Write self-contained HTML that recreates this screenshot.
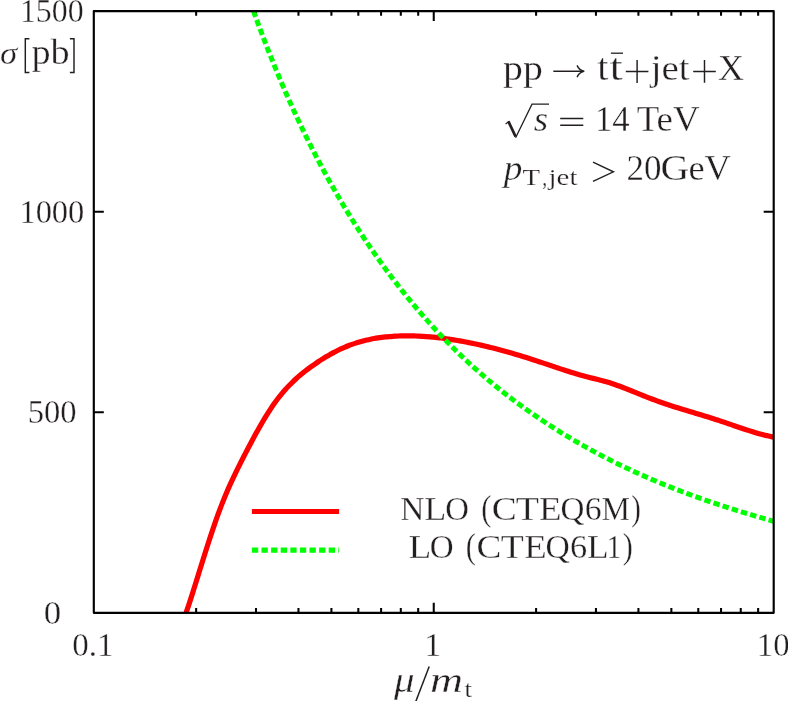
<!DOCTYPE html>
<html><head><meta charset="utf-8"><title>plot</title>
<style>
html,body{margin:0;padding:0;background:#fff}
body{width:788px;height:701px;position:relative;overflow:hidden}
svg{position:absolute;left:0;top:0;display:block;will-change:transform}
text{font-family:"Liberation Serif",serif;fill:#231f20;stroke:#fff;white-space:pre}
</style></head><body>
<svg width="788" height="701" viewBox="0 0 788 701">
<defs><clipPath id="c"><rect x="93.8" y="11.05" width="679.90" height="601.80"/></clipPath></defs>
<rect width="788" height="701" fill="#fff"/>
<path d="M196.14 612.85v-4.80M196.14 11.05v4.80M256.00 612.85v-4.80M256.00 11.05v4.80M298.47 612.85v-4.80M298.47 11.05v4.80M331.41 612.85v-4.80M331.41 11.05v4.80M358.33 612.85v-4.80M358.33 11.05v4.80M381.09 612.85v-4.80M381.09 11.05v4.80M400.81 612.85v-4.80M400.81 11.05v4.80M418.19 612.85v-4.80M418.19 11.05v4.80M433.75 612.85v-10.00M433.75 11.05v10.00M536.09 612.85v-4.80M536.09 11.05v4.80M595.95 612.85v-4.80M595.95 11.05v4.80M638.42 612.85v-4.80M638.42 11.05v4.80M671.36 612.85v-4.80M671.36 11.05v4.80M698.28 612.85v-4.80M698.28 11.05v4.80M721.04 612.85v-4.80M721.04 11.05v4.80M740.76 612.85v-4.80M740.76 11.05v4.80M758.14 612.85v-4.80M758.14 11.05v4.80M93.80 412.25h10.0M773.70 412.25h-10.0M93.80 211.65h10.0M773.70 211.65h-10.0" stroke="#000" stroke-width="2.05" fill="none"/>
<g clip-path="url(#c)" fill="none">
<path d="M185.00 616.02C185.62 614.19 187.47 608.82 188.71 605.08C189.95 601.34 191.18 597.48 192.42 593.60C193.66 589.72 194.90 585.74 196.13 581.78C197.37 577.82 198.61 573.80 199.84 569.83C201.08 565.86 202.32 561.87 203.55 557.94C204.79 554.01 206.03 550.09 207.26 546.24C208.50 542.39 209.74 538.57 210.97 534.85C212.21 531.12 213.45 527.44 214.69 523.88C215.92 520.31 217.16 516.81 218.40 513.44C219.63 510.07 220.87 506.81 222.11 503.66C223.34 500.50 224.58 497.47 225.82 494.51C227.05 491.56 228.29 488.72 229.53 485.93C230.77 483.15 232.00 480.46 233.24 477.82C234.48 475.18 235.71 472.62 236.95 470.08C238.19 467.55 239.42 465.09 240.66 462.63C241.90 460.18 243.13 457.78 244.37 455.38C245.61 452.98 246.84 450.60 248.08 448.24C249.32 445.88 250.56 443.53 251.79 441.22C253.03 438.91 254.27 436.61 255.50 434.36C256.74 432.11 257.98 429.88 259.21 427.70C260.45 425.52 261.69 423.38 262.92 421.28C264.16 419.19 265.40 417.13 266.64 415.14C267.87 413.15 269.11 411.20 270.35 409.32C271.58 407.44 272.82 405.61 274.06 403.85C275.29 402.09 276.53 400.41 277.77 398.78C279.00 397.15 280.24 395.59 281.48 394.09C282.71 392.58 283.95 391.14 285.19 389.75C286.43 388.36 287.66 387.02 288.90 385.73C290.14 384.44 291.37 383.21 292.61 382.01C293.85 380.81 295.08 379.66 296.32 378.54C297.56 377.42 298.79 376.35 300.03 375.30C301.27 374.25 302.51 373.25 303.74 372.26C304.98 371.27 306.22 370.32 307.45 369.38C308.69 368.45 309.93 367.54 311.16 366.64C312.40 365.75 313.64 364.87 314.87 364.02C316.11 363.16 317.35 362.33 318.58 361.51C319.82 360.69 321.06 359.89 322.30 359.12C323.53 358.34 324.77 357.58 326.01 356.84C327.24 356.10 328.48 355.39 329.72 354.69C330.95 353.99 332.19 353.31 333.43 352.66C334.66 352.00 335.90 351.36 337.14 350.75C338.38 350.13 339.61 349.54 340.85 348.97C342.09 348.39 343.32 347.84 344.56 347.31C345.80 346.78 347.03 346.27 348.27 345.78C349.51 345.30 350.74 344.83 351.98 344.39C353.22 343.94 354.45 343.52 355.69 343.12C356.93 342.71 358.17 342.33 359.40 341.97C360.64 341.60 361.88 341.26 363.11 340.94C364.35 340.61 365.59 340.31 366.82 340.02C368.06 339.73 369.30 339.46 370.53 339.21C371.77 338.96 373.01 338.72 374.25 338.50C375.48 338.28 376.72 338.08 377.96 337.89C379.19 337.70 380.43 337.53 381.67 337.37C382.90 337.21 384.14 337.06 385.38 336.93C386.61 336.80 387.85 336.68 389.09 336.58C390.32 336.47 391.56 336.38 392.80 336.30C394.04 336.22 395.27 336.15 396.51 336.09C397.75 336.04 398.98 335.99 400.22 335.95C401.46 335.91 402.69 335.89 403.93 335.87C405.17 335.85 406.40 335.85 407.64 335.85C408.88 335.85 410.12 335.86 411.35 335.88C412.59 335.90 413.83 335.93 415.06 335.97C416.30 336.01 417.54 336.06 418.77 336.12C420.01 336.17 421.25 336.24 422.48 336.31C423.72 336.39 424.96 336.47 426.19 336.56C427.43 336.65 428.67 336.75 429.91 336.86C431.14 336.97 432.38 337.08 433.62 337.21C434.85 337.33 436.09 337.46 437.33 337.60C438.56 337.74 439.80 337.88 441.04 338.04C442.27 338.19 443.51 338.35 444.75 338.52C445.99 338.69 447.22 338.86 448.46 339.04C449.70 339.22 450.93 339.41 452.17 339.61C453.41 339.80 454.64 340.00 455.88 340.21C457.12 340.42 458.35 340.63 459.59 340.85C460.83 341.07 462.06 341.29 463.30 341.52C464.54 341.76 465.78 341.99 467.01 342.24C468.25 342.48 469.49 342.73 470.72 342.98C471.96 343.23 473.20 343.49 474.43 343.75C475.67 344.02 476.91 344.29 478.14 344.56C479.38 344.83 480.62 345.11 481.86 345.40C483.09 345.68 484.33 345.97 485.57 346.26C486.80 346.56 488.04 346.86 489.28 347.16C490.51 347.46 491.75 347.77 492.99 348.08C494.22 348.40 495.46 348.71 496.70 349.03C497.94 349.36 499.17 349.68 500.41 350.01C501.65 350.34 502.88 350.68 504.12 351.02C505.36 351.36 506.59 351.70 507.83 352.05C509.07 352.40 510.30 352.75 511.54 353.11C512.78 353.46 514.01 353.82 515.25 354.19C516.49 354.55 517.73 354.92 518.96 355.29C520.20 355.66 521.44 356.04 522.67 356.42C523.91 356.80 525.15 357.18 526.38 357.57C527.62 357.96 528.86 358.35 530.09 358.75C531.33 359.14 532.57 359.54 533.81 359.94C535.04 360.34 536.28 360.75 537.52 361.16C538.75 361.56 539.99 361.98 541.23 362.39C542.46 362.80 543.70 363.22 544.94 363.63C546.17 364.05 547.41 364.47 548.65 364.88C549.88 365.30 551.12 365.72 552.36 366.13C553.60 366.55 554.83 366.96 556.07 367.38C557.31 367.79 558.54 368.20 559.78 368.61C561.02 369.02 562.25 369.43 563.49 369.83C564.73 370.23 565.96 370.63 567.20 371.03C568.44 371.42 569.68 371.81 570.91 372.20C572.15 372.58 573.39 372.96 574.62 373.33C575.86 373.71 577.10 374.07 578.33 374.43C579.57 374.79 580.81 375.15 582.04 375.49C583.28 375.83 584.52 376.17 585.75 376.49C586.99 376.82 588.23 377.14 589.47 377.45C590.70 377.77 591.94 378.08 593.18 378.39C594.41 378.70 595.65 379.01 596.89 379.32C598.12 379.63 599.36 379.95 600.60 380.27C601.83 380.60 603.07 380.92 604.31 381.27C605.55 381.61 606.78 381.96 608.02 382.33C609.26 382.70 610.49 383.08 611.73 383.48C612.97 383.88 614.20 384.30 615.44 384.73C616.68 385.16 617.91 385.60 619.15 386.06C620.39 386.51 621.62 386.98 622.86 387.45C624.10 387.93 625.34 388.41 626.57 388.90C627.81 389.39 629.05 389.89 630.28 390.38C631.52 390.88 632.76 391.39 633.99 391.89C635.23 392.40 636.47 392.91 637.70 393.41C638.94 393.92 640.18 394.43 641.42 394.93C642.65 395.43 643.89 395.93 645.13 396.42C646.36 396.92 647.60 397.41 648.84 397.89C650.07 398.37 651.31 398.84 652.55 399.30C653.78 399.77 655.02 400.22 656.26 400.67C657.49 401.12 658.73 401.56 659.97 401.99C661.21 402.42 662.44 402.85 663.68 403.27C664.92 403.69 666.15 404.10 667.39 404.51C668.63 404.92 669.86 405.33 671.10 405.73C672.34 406.13 673.57 406.52 674.81 406.91C676.05 407.30 677.29 407.69 678.52 408.08C679.76 408.46 681.00 408.84 682.23 409.22C683.47 409.60 684.71 409.98 685.94 410.35C687.18 410.73 688.42 411.10 689.65 411.47C690.89 411.85 692.13 412.22 693.36 412.59C694.60 412.96 695.84 413.33 697.08 413.70C698.31 414.08 699.55 414.45 700.79 414.82C702.02 415.20 703.26 415.57 704.50 415.95C705.73 416.33 706.97 416.71 708.21 417.09C709.44 417.48 710.68 417.86 711.92 418.25C713.16 418.64 714.39 419.03 715.63 419.43C716.87 419.83 718.10 420.23 719.34 420.63C720.58 421.04 721.81 421.45 723.05 421.87C724.29 422.28 725.52 422.70 726.76 423.13C728.00 423.55 729.23 423.97 730.47 424.40C731.71 424.82 732.95 425.25 734.18 425.67C735.42 426.10 736.66 426.52 737.89 426.95C739.13 427.37 740.37 427.79 741.60 428.20C742.84 428.62 744.08 429.03 745.31 429.44C746.55 429.84 747.79 430.24 749.03 430.64C750.26 431.03 751.50 431.42 752.74 431.80C753.97 432.17 755.21 432.54 756.45 432.90C757.68 433.26 758.92 433.61 760.16 433.95C761.39 434.28 762.63 434.61 763.87 434.92C765.10 435.23 766.34 435.53 767.58 435.82C768.82 436.10 770.05 436.37 771.29 436.62C772.53 436.88 774.38 437.21 775.00 437.33" stroke="#f00" stroke-width="5.2" stroke-linejoin="round"/>
<path d="M253.40 10.80C254.03 12.52 255.90 17.73 257.16 21.13C258.41 24.54 259.66 27.90 260.91 31.23C262.16 34.56 263.41 37.84 264.66 41.10C265.91 44.35 267.16 47.57 268.41 50.74C269.66 53.92 270.91 57.07 272.17 60.17C273.42 63.28 274.67 66.35 275.92 69.39C277.17 72.43 278.42 75.43 279.67 78.40C280.92 81.37 282.17 84.31 283.42 87.21C284.67 90.12 285.92 92.99 287.18 95.83C288.43 98.67 289.68 101.48 290.93 104.25C292.18 107.03 293.43 109.78 294.68 112.50C295.93 115.21 297.18 117.90 298.43 120.56C299.68 123.22 300.93 125.85 302.19 128.45C303.44 131.06 304.69 133.63 305.94 136.18C307.19 138.73 308.44 141.25 309.69 143.74C310.94 146.24 312.19 148.71 313.44 151.15C314.69 153.60 315.94 156.02 317.20 158.42C318.45 160.81 319.70 163.18 320.95 165.53C322.20 167.88 323.45 170.21 324.70 172.51C325.95 174.82 327.20 177.10 328.45 179.36C329.70 181.62 330.95 183.86 332.21 186.07C333.46 188.29 334.71 190.48 335.96 192.65C337.21 194.83 338.46 196.98 339.71 199.11C340.96 201.24 342.21 203.35 343.46 205.45C344.71 207.54 345.96 209.61 347.22 211.66C348.47 213.71 349.72 215.74 350.97 217.76C352.22 219.77 353.47 221.76 354.72 223.74C355.97 225.71 357.22 227.67 358.47 229.61C359.72 231.55 360.97 233.47 362.23 235.37C363.48 237.28 364.73 239.16 365.98 241.03C367.23 242.90 368.48 244.75 369.73 246.59C370.98 248.42 372.23 250.24 373.48 252.04C374.73 253.85 375.98 255.63 377.24 257.40C378.49 259.18 379.74 260.93 380.99 262.67C382.24 264.41 383.49 266.14 384.74 267.85C385.99 269.56 387.24 271.26 388.49 272.94C389.74 274.62 390.99 276.29 392.25 277.94C393.50 279.59 394.75 281.23 396.00 282.85C397.25 284.48 398.50 286.08 399.75 287.68C401.00 289.28 402.25 290.86 403.50 292.42C404.75 293.99 406.00 295.55 407.26 297.09C408.51 298.63 409.76 300.15 411.01 301.67C412.26 303.18 413.51 304.68 414.76 306.17C416.01 307.65 417.26 309.13 418.51 310.59C419.76 312.05 421.01 313.50 422.27 314.93C423.52 316.37 424.77 317.79 426.02 319.20C427.27 320.61 428.52 322.00 429.77 323.39C431.02 324.78 432.27 326.15 433.52 327.51C434.77 328.87 436.02 330.22 437.28 331.56C438.53 332.89 439.78 334.22 441.03 335.53C442.28 336.84 443.53 338.15 444.78 339.44C446.03 340.73 447.28 342.01 448.53 343.27C449.78 344.54 451.03 345.80 452.29 347.04C453.54 348.29 454.79 349.52 456.04 350.75C457.29 351.97 458.54 353.18 459.79 354.39C461.04 355.59 462.29 356.78 463.54 357.96C464.79 359.14 466.04 360.31 467.30 361.48C468.55 362.64 469.80 363.79 471.05 364.93C472.30 366.07 473.55 367.20 474.80 368.32C476.05 369.44 477.30 370.55 478.55 371.65C479.80 372.76 481.05 373.85 482.31 374.93C483.56 376.01 484.81 377.09 486.06 378.15C487.31 379.21 488.56 380.27 489.81 381.31C491.06 382.36 492.31 383.40 493.56 384.43C494.81 385.45 496.06 386.47 497.32 387.48C498.57 388.49 499.82 389.50 501.07 390.49C502.32 391.48 503.57 392.47 504.82 393.45C506.07 394.42 507.32 395.39 508.57 396.35C509.82 397.31 511.07 398.27 512.33 399.21C513.58 400.16 514.83 401.10 516.08 402.03C517.33 402.96 518.58 403.88 519.83 404.79C521.08 405.71 522.33 406.61 523.58 407.52C524.83 408.42 526.08 409.31 527.34 410.19C528.59 411.08 529.84 411.96 531.09 412.83C532.34 413.70 533.59 414.57 534.84 415.43C536.09 416.29 537.34 417.14 538.59 417.99C539.84 418.83 541.09 419.67 542.35 420.51C543.60 421.34 544.85 422.17 546.10 422.99C547.35 423.81 548.60 424.62 549.85 425.43C551.10 426.24 552.35 427.04 553.60 427.84C554.85 428.64 556.10 429.43 557.36 430.21C558.61 431.00 559.86 431.78 561.11 432.55C562.36 433.32 563.61 434.09 564.86 434.85C566.11 435.61 567.36 436.37 568.61 437.12C569.86 437.87 571.11 438.61 572.37 439.35C573.62 440.09 574.87 440.82 576.12 441.55C577.37 442.27 578.62 443.00 579.87 443.71C581.12 444.43 582.37 445.14 583.62 445.84C584.87 446.55 586.12 447.25 587.38 447.94C588.63 448.64 589.88 449.33 591.13 450.01C592.38 450.70 593.63 451.37 594.88 452.05C596.13 452.72 597.38 453.39 598.63 454.05C599.88 454.72 601.13 455.38 602.39 456.03C603.64 456.68 604.89 457.33 606.14 457.97C607.39 458.62 608.64 459.26 609.89 459.89C611.14 460.52 612.39 461.15 613.64 461.78C614.89 462.40 616.14 463.02 617.40 463.63C618.65 464.25 619.90 464.86 621.15 465.46C622.40 466.07 623.65 466.67 624.90 467.27C626.15 467.86 627.40 468.45 628.65 469.04C629.90 469.63 631.15 470.21 632.41 470.79C633.66 471.37 634.91 471.94 636.16 472.51C637.41 473.08 638.66 473.65 639.91 474.21C641.16 474.77 642.41 475.33 643.66 475.88C644.91 476.43 646.16 476.98 647.42 477.52C648.67 478.07 649.92 478.61 651.17 479.15C652.42 479.68 653.67 480.22 654.92 480.74C656.17 481.27 657.42 481.80 658.67 482.32C659.92 482.84 661.17 483.36 662.43 483.87C663.68 484.38 664.93 484.89 666.18 485.40C667.43 485.90 668.68 486.41 669.93 486.91C671.18 487.40 672.43 487.90 673.68 488.39C674.93 488.88 676.18 489.37 677.44 489.85C678.69 490.34 679.94 490.82 681.19 491.29C682.44 491.77 683.69 492.25 684.94 492.72C686.19 493.19 687.44 493.65 688.69 494.12C689.94 494.58 691.19 495.04 692.45 495.50C693.70 495.95 694.95 496.41 696.20 496.86C697.45 497.31 698.70 497.76 699.95 498.20C701.20 498.64 702.45 499.09 703.70 499.52C704.95 499.96 706.20 500.40 707.46 500.83C708.71 501.26 709.96 501.69 711.21 502.12C712.46 502.54 713.71 502.96 714.96 503.38C716.21 503.81 717.46 504.22 718.71 504.64C719.96 505.05 721.21 505.46 722.47 505.87C723.72 506.28 724.97 506.69 726.22 507.09C727.47 507.50 728.72 507.90 729.97 508.30C731.22 508.69 732.47 509.09 733.72 509.48C734.97 509.88 736.22 510.27 737.48 510.65C738.73 511.04 739.98 511.43 741.23 511.81C742.48 512.20 743.73 512.58 744.98 512.96C746.23 513.33 747.48 513.71 748.73 514.08C749.98 514.46 751.23 514.83 752.49 515.20C753.74 515.57 754.99 515.94 756.24 516.30C757.49 516.67 758.74 517.03 759.99 517.39C761.24 517.75 762.49 518.11 763.74 518.47C764.99 518.83 766.24 519.18 767.50 519.53C768.75 519.89 770.00 520.24 771.25 520.59C772.50 520.94 774.37 521.46 775.00 521.63" stroke="#0f0" stroke-width="5" stroke-dasharray="6.4 3.2" stroke-linejoin="round"/>
</g>
<path d="M251.9 511.5H339.1" stroke="#f00" stroke-width="5.2" fill="none"/>
<path d="M251.9 550.1H339.1" stroke="#0f0" stroke-width="5.2" stroke-dasharray="6.3 3.3" fill="none"/>
<rect x="93.8" y="11.05" width="679.90" height="601.80" fill="none" stroke="#000" stroke-width="2.15" stroke-linejoin="round"/>
<g>
<text><tspan x="19.95" y="22.20" font-size="32.8" stroke-width="0.31" textLength="63.66" lengthAdjust="spacingAndGlyphs">1500</tspan></text>
<text><tspan x="19.40" y="222.60" font-size="32.8" stroke-width="0.31" textLength="64.96" lengthAdjust="spacingAndGlyphs">1000</tspan></text>
<text><tspan x="27.65" y="423.30" font-size="32.8" stroke-width="0.31" textLength="48.82" lengthAdjust="spacingAndGlyphs">500</tspan></text>
<text><tspan x="43.65" y="623.90" font-size="32.8" stroke-width="0.31" textLength="17.47" lengthAdjust="spacingAndGlyphs">0</tspan></text>
<text><tspan x="72.30" y="656.00" font-size="32.8" stroke-width="0.31" textLength="41.26" lengthAdjust="spacingAndGlyphs">0.1</tspan></text>
<text><tspan x="424.35" y="656.00" font-size="32.8" stroke-width="0.31" textLength="17.01" lengthAdjust="spacingAndGlyphs">1</tspan></text>
<text><tspan x="756.85" y="656.00" font-size="32.8" stroke-width="0.31" textLength="32.79" lengthAdjust="spacingAndGlyphs">10</tspan></text>
<text><tspan x="-0.05" y="64.30" font-size="32.0" font-style="italic" stroke-width="0.3" textLength="17.20" lengthAdjust="spacingAndGlyphs">σ</tspan><tspan x="31.50" y="64.30" font-size="35.5" stroke-width="0.34" textLength="38.19" lengthAdjust="spacingAndGlyphs">pb</tspan></text>
<text><tspan x="393.90" y="692.40" font-size="35.5" font-style="italic" stroke-width="0.34" textLength="20.63" lengthAdjust="spacingAndGlyphs">μ</tspan><tspan x="429.95" y="692.40" font-size="35.5" font-style="italic" stroke-width="0.34" textLength="33.04" lengthAdjust="spacingAndGlyphs">m</tspan><tspan x="464.45" y="697.30" font-size="23.6" stroke-width="0.22" textLength="7.48" lengthAdjust="spacingAndGlyphs">t</tspan></text>
<text><tspan x="503.10" y="79.80" font-size="35.5" stroke-width="0.34" textLength="39.83" lengthAdjust="spacingAndGlyphs">pp</tspan><tspan x="597.15" y="79.80" font-size="38.2" stroke-width="0.36" textLength="11.13" lengthAdjust="spacingAndGlyphs">t</tspan><tspan x="609.60" y="79.80" font-size="38.2" stroke-width="0.36" textLength="13.31" lengthAdjust="spacingAndGlyphs">t</tspan><tspan x="650.75" y="79.80" font-size="35.5" stroke-width="0.34" textLength="38.93" lengthAdjust="spacingAndGlyphs">jet</tspan><tspan x="717.95" y="79.80" font-size="35.5" stroke-width="0.34" textLength="26.03" lengthAdjust="spacingAndGlyphs">X</tspan></text>
<text><tspan x="533.70" y="130.80" font-size="35.5" font-style="italic" stroke-width="0.34" textLength="14.36" lengthAdjust="spacingAndGlyphs">s</tspan><tspan x="595.00" y="130.80" font-size="35.5" stroke-width="0.34" textLength="34.71" lengthAdjust="spacingAndGlyphs">14</tspan> <tspan x="636.65" y="130.80" font-size="35.5" stroke-width="0.34" textLength="62.96" lengthAdjust="spacingAndGlyphs">TeV</tspan></text>
<text><tspan x="503.85" y="180.10" font-size="35.5" font-style="italic" stroke-width="0.34" textLength="18.63" lengthAdjust="spacingAndGlyphs">p</tspan><tspan x="522.60" y="185.30" font-size="23.6" stroke-width="0.22" textLength="17.56" lengthAdjust="spacingAndGlyphs">T</tspan><tspan x="542.15" y="185.30" font-size="23.6" stroke-width="0.22" textLength="4.91" lengthAdjust="spacingAndGlyphs">,</tspan><tspan x="548.50" y="185.30" font-size="23.6" stroke-width="0.22" textLength="28.97" lengthAdjust="spacingAndGlyphs">jet</tspan> <tspan x="626.60" y="180.20" font-size="35.5" stroke-width="0.34" textLength="34.93" lengthAdjust="spacingAndGlyphs">20</tspan><tspan x="660.60" y="180.20" font-size="35.5" stroke-width="0.34" textLength="28.66" lengthAdjust="spacingAndGlyphs">G</tspan><tspan x="688.40" y="180.20" font-size="35.5" stroke-width="0.34" textLength="42.43" lengthAdjust="spacingAndGlyphs">eV</tspan></text>
<text><tspan x="400.30" y="519.80" font-size="32.8" stroke-width="0.31" textLength="24.22" lengthAdjust="spacingAndGlyphs">N</tspan><tspan x="424.30" y="519.80" font-size="32.8" stroke-width="0.31" textLength="22.06" lengthAdjust="spacingAndGlyphs">L</tspan><tspan x="445.25" y="519.80" font-size="32.8" stroke-width="0.31" textLength="23.63" lengthAdjust="spacingAndGlyphs">O</tspan> <tspan x="481.25" y="519.80" font-size="35.8" stroke-width="0.34" textLength="10.12" lengthAdjust="spacingAndGlyphs">(</tspan><tspan x="491.70" y="519.80" font-size="32.8" stroke-width="0.31" textLength="24.92" lengthAdjust="spacingAndGlyphs">C</tspan><tspan x="515.75" y="519.80" font-size="32.8" stroke-width="0.31" textLength="23.22" lengthAdjust="spacingAndGlyphs">T</tspan><tspan x="539.00" y="519.80" font-size="32.8" stroke-width="0.31" textLength="22.49" lengthAdjust="spacingAndGlyphs">E</tspan><tspan x="560.40" y="519.80" font-size="32.8" stroke-width="0.31" textLength="23.90" lengthAdjust="spacingAndGlyphs">Q</tspan><tspan x="584.85" y="519.80" font-size="32.8" stroke-width="0.31" textLength="16.88" lengthAdjust="spacingAndGlyphs">6</tspan><tspan x="601.50" y="519.80" font-size="32.8" stroke-width="0.31" textLength="28.46" lengthAdjust="spacingAndGlyphs">M</tspan><tspan x="631.20" y="519.80" font-size="35.8" stroke-width="0.34" textLength="9.59" lengthAdjust="spacingAndGlyphs">)</tspan></text>
<text><tspan x="408.40" y="557.60" font-size="32.8" stroke-width="0.31" textLength="22.82" lengthAdjust="spacingAndGlyphs">L</tspan><tspan x="429.85" y="557.60" font-size="32.8" stroke-width="0.31" textLength="23.86" lengthAdjust="spacingAndGlyphs">O</tspan> <tspan x="465.75" y="557.60" font-size="35.8" stroke-width="0.34" textLength="10.12" lengthAdjust="spacingAndGlyphs">(</tspan><tspan x="476.50" y="557.60" font-size="32.8" stroke-width="0.31" textLength="24.87" lengthAdjust="spacingAndGlyphs">C</tspan><tspan x="500.65" y="557.60" font-size="32.8" stroke-width="0.31" textLength="23.02" lengthAdjust="spacingAndGlyphs">T</tspan><tspan x="524.30" y="557.60" font-size="32.8" stroke-width="0.31" textLength="22.52" lengthAdjust="spacingAndGlyphs">E</tspan><tspan x="545.40" y="557.60" font-size="32.8" stroke-width="0.31" textLength="24.26" lengthAdjust="spacingAndGlyphs">Q</tspan><tspan x="569.90" y="557.60" font-size="32.8" stroke-width="0.31" textLength="17.18" lengthAdjust="spacingAndGlyphs">6</tspan><tspan x="587.00" y="557.60" font-size="32.8" stroke-width="0.31" textLength="21.62" lengthAdjust="spacingAndGlyphs">L</tspan><tspan x="606.55" y="557.60" font-size="32.8" stroke-width="0.31" textLength="14.91" lengthAdjust="spacingAndGlyphs">1</tspan><tspan x="622.80" y="557.60" font-size="35.8" stroke-width="0.34" textLength="10.08" lengthAdjust="spacingAndGlyphs">)</tspan></text>
</g>
<g fill="none" stroke="#231f20" stroke-width="1.45">
<path d="M553.3 71.25H583.2"/>
<path d="M577.3 65.85C578.6 68.65 581.0 70.45 583.8 71.25C581.0 72.05 578.6 73.85 577.3 76.65" stroke-linecap="round" stroke-linejoin="round"/>
<path d="M625.80 71.5H648.40M637.1 60.10V82.90"/>
<path d="M693.20 71.4H715.80M704.5 60.00V82.80"/>
<path d="M610.9 53.2H623.0" stroke-width="1.3"/>
<path d="M560.2 118.5H583.3M560.2 125.2H583.3"/>
<path d="M593.0 162.2L613.4 171.8L593.0 181.4" stroke-linejoin="miter"/>
<path d="M429.2 666.6L415.6 702" stroke-width="1.5"/>
<path d="M29.4 38.7H25.3V72.5H29.4"/>
<path d="M69.9 38.7H74.0V72.5H69.9"/>
<path d="M505.6 124.0L509.0 121.3" stroke-width="1.1"/>
<path d="M508.4 121.4L515.6 136.6" stroke-width="2.7"/>
<path d="M515.6 137.8L532.0 104.1H549.0" stroke-width="1.3" stroke-linejoin="miter"/>
</g>
</svg>
</body></html>
